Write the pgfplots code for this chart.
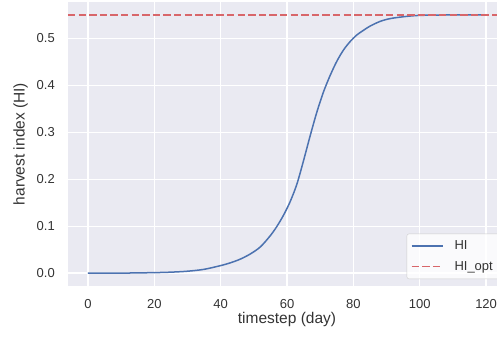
\documentclass[border=0pt]{standalone}
\usepackage{pgfplots}
\pgfplotsset{compat=1.18}
\usepackage{fontspec}
\setmainfont{Liberation Sans}
\definecolor{bgc}{HTML}{EAEAF2}
\definecolor{sblue}{HTML}{4C72B0}
\definecolor{sred}{HTML}{D8666A}
\definecolor{txt}{HTML}{333333}
\definecolor{lgd}{HTML}{CCCCCC}
\begin{document}
\begin{tikzpicture}
\begin{axis}[
  scale only axis, width=438pt, height=284pt,
  xmin=-6, xmax=126, ymin=-0.0275, ymax=0.5775,
  axis background/.style={fill=bgc},
  axis line style={draw=none},
  grid=major, grid style={white, line width=1.2pt},
  major tick length=0pt,
  xtick={0,20,40,60,80,100,120},
  ytick={0,0.1,0.2,0.3,0.4,0.5},
  /pgf/number format/assume math mode=true,
  yticklabel style={/pgf/number format/fixed, /pgf/number format/fixed zerofill, /pgf/number format/precision=1, inner sep=0pt, xshift=-13pt},
  xticklabel style={inner sep=0pt, yshift=-13pt},
  tick label style={font=\fontsize{13}{15}\selectfont, text=txt},
  xlabel={timestep (day)},
  ylabel={harvest index (HI)},
  every axis x label/.style={at={(axis description cs:0.5,0)}, anchor=north, inner sep=0pt, yshift=-26pt, font=\fontsize{15.5}{18}\selectfont, text=txt},
  every axis y label/.style={at={(axis description cs:0,0.5)}, rotate=90, anchor=south, inner sep=0pt, yshift=40pt, font=\fontsize{15.5}{18}\selectfont, text=txt},
  legend style={at={(1,0)}, anchor=south east, xshift=-7pt, yshift=7pt, fill=white, fill opacity=0.8, draw opacity=1, text opacity=1, draw=lgd, rounded corners=2pt, font=\fontsize{13}{15}\selectfont, text=txt, row sep=6pt, inner xsep=4pt, inner ysep=5pt,
    /tikz/every odd column/.append style={column sep=9pt}},
  legend cell align=left,
  legend image code/.code={\draw[#1] (0pt,0pt) -- (31pt,0pt);},
]
\addplot[forget plot, sblue, line width=1.5pt, smooth] coordinates {
(0,0.000) (10,0.000) (20,0.001) (25,0.002) (30,0.004) (35,0.008) (40,0.016)
(43,0.022) (46,0.030) (49,0.041) (52,0.056) (55,0.080) (57,0.100) (59,0.124)
(61,0.153) (63,0.190) (65,0.240) (67,0.293) (69,0.343) (71,0.386) (73,0.421)
(75,0.451) (77,0.475) (79,0.493) (81,0.507) (83,0.517) (85,0.526) (88,0.536)
(91,0.542) (95,0.546) (100,0.549) (110,0.550) (120,0.550)
};
\addplot[forget plot, sred, line width=1.5pt, dash pattern=on 7.4pt off 3.2pt] coordinates {(-6,0.55) (126,0.55)};
\addlegendimage{draw=sblue, line width=1.6pt}
\addlegendentry{HI}
\addlegendimage{draw=sred, line width=1.6pt, dash pattern=on 7.4pt off 3.2pt}
\addlegendentry{HI\_opt}
\coordinate (bl) at (rel axis cs:0,0);
\coordinate (tr) at (rel axis cs:1,1);
\end{axis}
\pgfresetboundingbox
\useasboundingbox ([shift={(-68pt,-54pt)}]bl) rectangle ([shift={(-9pt,2pt)}]tr);
\end{tikzpicture}
\end{document}
